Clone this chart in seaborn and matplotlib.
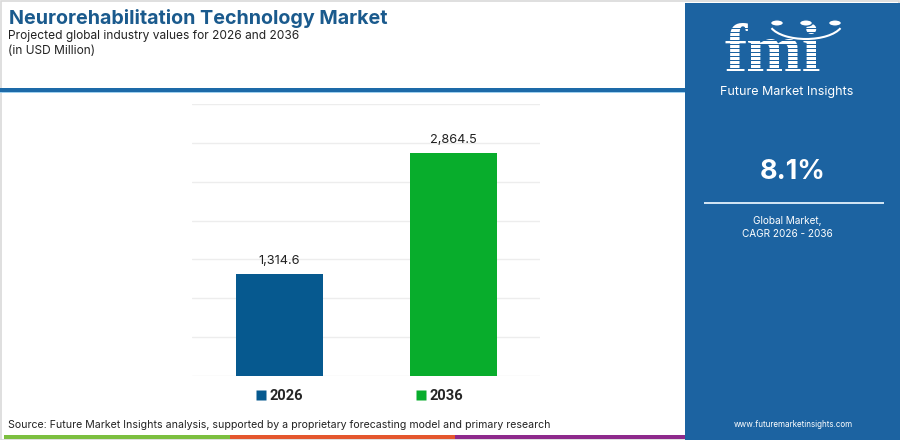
import matplotlib
matplotlib.use("Agg")
import matplotlib.pyplot as plt
import seaborn as sns
import pandas as pd
from matplotlib.patches import Rectangle, Circle, Arc
from matplotlib.lines import Line2D

# ---- data ----
years = ["2026", "2036"]
values = [1314.6, 2864.5]
bar_colors = ["#06598f", "#08ad2c"]
title = "Neurorehabilitation Technology Market"
subtitle = "Projected global industry values for 2026 and 2036"
unit = "(in USD Million)"
source = "Source: Future Market Insights analysis, supported by a proprietary forecasting model and primary research"
cagr = "8.1%"

sns.set_theme(style="white")
FONT = ["Inter", "DejaVu Sans"]
plt.rcParams["font.family"] = FONT

W, H = 900, 440
fig = plt.figure(figsize=(9, 4.4), dpi=100)
fig.patch.set_facecolor("white")

def fx(x):
    return x / W

def fy(y):
    return 1 - y / H

def rect(x0, y0, x1, y1, color, z=0, **kw):
    fig.add_artist(Rectangle((fx(x0), fy(y1)), fx(x1 - x0), (y1 - y0) / H,
                             transform=fig.transFigure, facecolor=color,
                             edgecolor="none", zorder=z, **kw))

# outer light border
fig.add_artist(Rectangle((0.0008, 0.001), 0.998, 0.997, transform=fig.transFigure,
                         facecolor="none", edgecolor="#d9d9d9", lw=1.2, zorder=1))

# header separator
rect(0, 88, 685, 92, "#1d6aa8", z=2)
rect(0, 92, 685, 93.5, "#9fd0ef", z=2)

# bottom strip
rect(4, 434.5, 230, 439, "#7cbf3f", z=2)
rect(230, 434.5, 455, 439, "#e4572e", z=2)
rect(455, 434.5, 685, 439, "#8e2a8c", z=2)

# right panel
rect(685, 3, 900, 440, "#1c63a1", z=2)

# title texts
fig.text(fx(9), fy(19), title, fontsize=14.2, fontweight="bold", color="#1a5a8d",
         ha="left", va="center", family=FONT)
fig.text(fx(8), fy(36), subtitle, fontsize=8.6, color="#222222",
         ha="left", va="center", family=FONT)
fig.text(fx(8), fy(51), unit, fontsize=8.6, color="#222222",
         ha="left", va="center", family=FONT)
fig.text(fx(8), fy(425), source, fontsize=7.6, color="#222222",
         ha="left", va="center", family=FONT)

# ---- chart ----
ax = fig.add_axes([fx(192), fy(376), fx(540 - 192), (376 - 104) / H])
df = pd.DataFrame({"year": years, "value": values})
sns.barplot(data=df, x="year", y="value", hue="year", palette=bar_colors,
            width=0.5, ax=ax, legend=False, saturation=1, edgecolor="none")
ax.set_ylim(0, 3500)
ax.set_xlim(-0.5, 1.5)
ax.set_yticks(range(0, 3501, 500))
ax.yaxis.grid(True, color="#ededed", lw=1)
ax.set_axisbelow(True)
for s in ax.spines.values():
    s.set_visible(False)
ax.set_xticks([])
ax.set_yticklabels([])
ax.tick_params(left=False, bottom=False)
ax.set_xlabel("")
ax.set_ylabel("")
ax.set_facecolor("none")
for cont in ax.containers:
    ax.bar_label(cont, labels=[f"{v:,.1f}" for v in cont.datavalues],
                 padding=5, fontsize=9.2, color="#222222", family=FONT)

handles = [Line2D([0], [0], marker="s", linestyle="none", markersize=6.5,
                  markerfacecolor=c, markeredgecolor="none") for c in bar_colors]
leg = fig.legend(handles, years, ncol=2, loc="center",
                 bbox_to_anchor=(fx(360), fy(396)), frameon=False,
                 prop={"family": ["Roboto", "DejaVu Sans"], "weight": "bold", "size": 10.5},
                 handlelength=0.55, handletextpad=0.3, columnspacing=7.85)

# ---- right panel content ----
fig.text(fx(773), fy(71), "fmi", fontsize=48, fontweight="bold",
         color="white", ha="center", va="baseline",
         family=["Liberation Serif", "DejaVu Serif"], zorder=4)
# stripes across the logo
for yy in range(28, 74, 4):
    rect(715, yy, 832, yy + 1.3, "#1c63a1", z=5)
for cx in [777, 806, 835]:
    fig.add_artist(Circle((fx(cx), fy(23)), 6.5 / W, transform=fig.transFigure,
                          facecolor="white", edgecolor="#1c63a1", lw=1, zorder=6))
fig.add_artist(Arc((fx(806), fy(22)), 74 / W, 34 / H, theta1=200, theta2=340,
                   transform=fig.transFigure, color="white", lw=1.5, zorder=6))
fig.text(fx(787), fy(92.5), "Future Market Insights", fontsize=9.0, color="white",
         ha="center", va="center", family=FONT, zorder=6)
fig.text(fx(793), fy(172), cagr, fontsize=19.5, fontweight="bold", color="white",
         ha="center", va="center", family=FONT, zorder=6)
rect(704, 202.5, 884, 204, "#cfe3f3", z=6)
fig.text(fx(787), fy(221), "Global Market,", fontsize=7.2, color="white",
         ha="center", va="center", family=FONT, zorder=6)
fig.text(fx(787), fy(234), "CAGR 2026 - 2036", fontsize=7.2, color="white",
         ha="center", va="center", family=FONT, zorder=6)
fig.text(fx(793), fy(424), "www.futuremarketinsights.com", fontsize=5.8, color="white",
         ha="center", va="center", family=FONT, zorder=6)

fig.savefig("out.png", dpi=100, facecolor="white")
